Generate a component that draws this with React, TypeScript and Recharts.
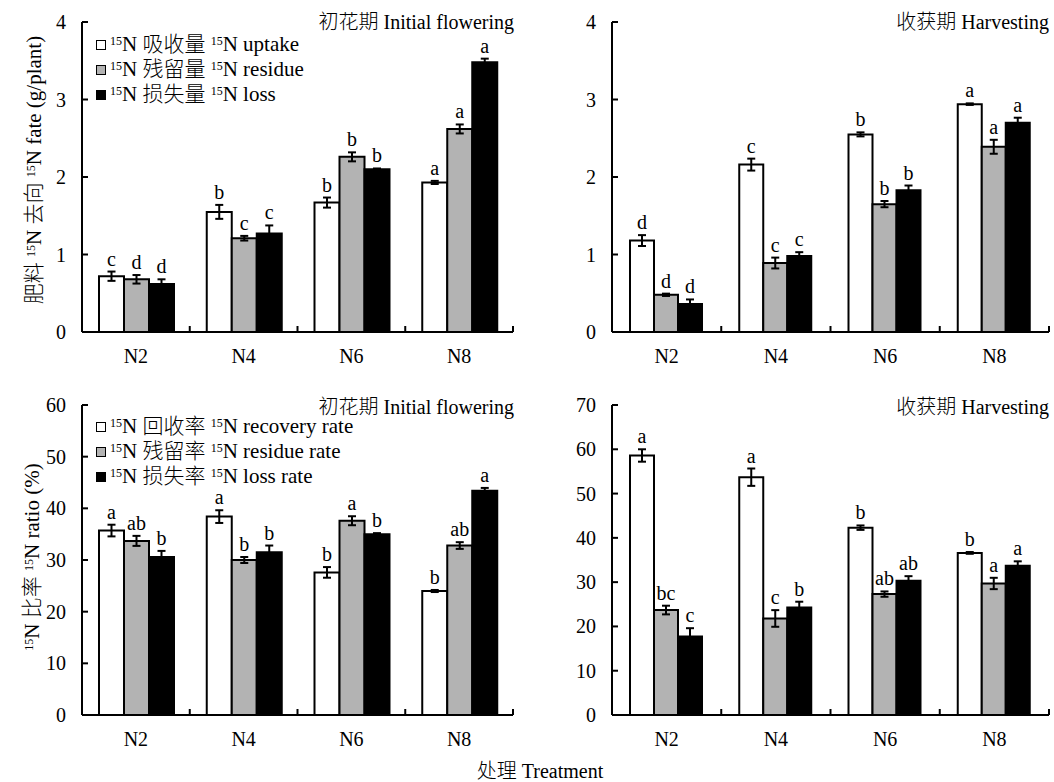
import React from "react";
import { Bar, BarChart, ErrorBar, LabelList, Legend, XAxis, YAxis } from "recharts";

const FONT = "'Liberation Serif', 'Noto Sans CJK SC', serif";
const FS = 20;

const treatments = ["N2", "N4", "N6", "N8"];

// 初花期 fate (g/plant)
const flUptake = [0.72, 1.55, 1.67, 1.93];
const flUptakeErr = [0.06, 0.09, 0.065, 0.02];
const flUptakeSig = ["c", "b", "b", "a"];
const flResidue = [0.68, 1.21, 2.26, 2.62];
const flResidueErr = [0.055, 0.03, 0.058, 0.058];
const flResidueSig = ["d", "c", "b", "a"];
const flLoss = [0.62, 1.27, 2.1, 3.48];
const flLossErr = [0.06, 0.105, 0.01, 0.047];
const flLossSig = ["d", "c", "b", "a"];

// 收获期 fate (g/plant)
const hvUptake = [1.18, 2.16, 2.55, 2.94];
const hvUptakeErr = [0.07, 0.077, 0.026, 0.01];
const hvUptakeSig = ["d", "c", "b", "a"];
const hvResidue = [0.48, 0.89, 1.65, 2.39];
const hvResidueErr = [0.015, 0.07, 0.04, 0.09];
const hvResidueSig = ["d", "c", "b", "a"];
const hvLoss = [0.36, 0.98, 1.83, 2.7];
const hvLossErr = [0.06, 0.05, 0.06, 0.065];
const hvLossSig = ["d", "c", "b", "a"];

// 初花期 ratio (%)
const flRecovery = [35.7, 38.4, 27.6, 24.0];
const flRecoveryErr = [1.13, 1.23, 1.03, 0.2];
const flRecoverySig = ["a", "a", "b", "b"];
const flResRate = [33.7, 30.0, 37.6, 32.8];
const flResRateErr = [0.97, 0.58, 0.87, 0.65];
const flResRateSig = ["ab", "b", "a", "ab"];
const flLossRate = [30.6, 31.5, 35.0, 43.4];
const flLossRateErr = [1.16, 1.3, 0.2, 0.55];
const flLossRateSig = ["b", "b", "b", "a"];

// 收获期 ratio (%)
const hvRecovery = [58.6, 53.7, 42.3, 36.6];
const hvRecoveryErr = [1.4, 1.96, 0.5, 0.2];
const hvRecoverySig = ["a", "a", "b", "b"];
const hvResRate = [23.7, 21.8, 27.3, 29.7];
const hvResRateErr = [0.98, 1.88, 0.6, 1.28];
const hvResRateSig = ["bc", "c", "ab", "a"];
const hvLossRate = [17.7, 24.3, 30.3, 33.7];
const hvLossRateErr = [1.9, 1.28, 1.05, 1.0];
const hvLossRateSig = ["c", "b", "ab", "a"];

const fateTicks = [0, 1, 2, 3, 4];
const flRatioTicks = [0, 10, 20, 30, 40, 50, 60];
const hvRatioTicks = [0, 10, 20, 30, 40, 50, 60, 70];

type Series = { v: number[]; e: number[]; s: string[] };

const rows = (a: Series, b: Series, c: Series) =>
  treatments.map((t, i) => ({
    name: t,
    a: a.v[i], aErr: a.e[i], aSig: a.s[i],
    b: b.v[i], bErr: b.e[i], bSig: b.s[i],
    c: c.v[i], cErr: c.e[i], cSig: c.s[i],
  }));

const Sup = ({ children }: { children: React.ReactNode }) => (
  <span style={{ fontSize: 12, verticalAlign: "top", lineHeight: "14px", position: "relative", top: 2 }}>{children}</span>
);

const sigLabel = (vals: number[], errs: number[]) => (props: any) => {
  const vb = props.viewBox && props.viewBox.width != null ? props.viewBox : props;
  const { x, y, width, height } = vb;
  const i = props.index ?? 0;
  const per = vals[i] ? height / vals[i] : 0;
  const top = y - errs[i] * per;
  return (
    <text x={x + width / 2} y={top - 6} textAnchor="middle" fontSize={FS} fontFamily={FONT} fill="#000">
      {props.value}
    </text>
  );
};

const YTick = (props: any) => {
  const { x, y, payload } = props;
  return (
    <g>
      <line x1={x + 16} x2={x + 22} y1={y} y2={y} stroke="#000" strokeWidth={2} />
      <text x={x} y={y} dy="0.35em" textAnchor="end" fontSize={FS} fontFamily={FONT} fill="#000">
        {payload.value}
      </text>
    </g>
  );
};

const makeXTick = (band: number) => (props: any) => {
  const { x, y, payload } = props;
  const off = payload.offset ?? band / 2;
  return (
    <g>
      <line x1={x + off} x2={x + off} y1={y} y2={y - 6} stroke="#000" strokeWidth={2} />
      <text x={x} y={y + 31} textAnchor="middle" fontSize={FS} fontFamily={FONT} fill="#000">
        {payload.value}
      </text>
    </g>
  );
};

const legendBox = (items: [string, string, string][]) => () => (
  <div style={{ fontFamily: FONT, fontSize: 21, lineHeight: "25px", color: "#000", fontWeight: 300 }}>
    {items.map(([fill, zh, en]) => (
      <div key={zh} style={{ display: "flex", alignItems: "center", whiteSpace: "nowrap" }}>
        <span style={{ width: 8, height: 8, border: "1.5px solid #000", background: fill, marginRight: 4, display: "inline-block" }} />
        <span>
          <Sup>15</Sup>N {zh} <Sup>15</Sup>N {en}
        </span>
      </div>
    ))}
  </div>
);

type PanelProps = {
  data: ReturnType<typeof rows>;
  series: Series[];
  width: number;
  height: number;
  margin: { top: number; right: number; left: number; bottom: number };
  ticks: number[];
  gap: number;
  legend?: [string, string, string][];
  legendTop?: number;
};

const Panel = ({ data, series, width, height, margin, ticks, gap, legend, legendTop }: PanelProps) => {
  const band = (width - margin.left - margin.right - 82) / treatments.length;
  const keys = ["a", "b", "c"];
  const fills = ["#ffffff", "#b3b3b3", "#000000"];
  return (
    <BarChart width={width} height={height} data={data} margin={margin} barCategoryGap={gap} barGap={0}>
      <XAxis
        dataKey="name"
        height={30}
        axisLine={{ stroke: "#000", strokeWidth: 2 }}
        tickLine={false}
        tickSize={0}
        tickMargin={0}
        tick={makeXTick(band)}
        interval={0}
      />
      <YAxis
        width={82}
        domain={[ticks[0], ticks[ticks.length - 1]]}
        ticks={ticks}
        axisLine={{ stroke: "#000", strokeWidth: 2 }}
        tickLine={false}
        tickSize={0}
        tickMargin={16}
        tick={<YTick />}
        interval={0}
      />
      {legend && (
        <Legend
          layout="horizontal"
          verticalAlign="middle"
          align="center"
          content={legendBox(legend)}
          wrapperStyle={{ top: legendTop, left: 96, width: "auto", height: "auto", bottom: "auto" }}
        />
      )}
      {keys.map((k, j) => (
        <Bar key={k} dataKey={k} fill={fills[j]} stroke="#000" strokeWidth={2} isAnimationActive={false}>
          <ErrorBar dataKey={`${k}Err`} width={4} stroke="#000" strokeWidth={2} direction="y" />
          <LabelList dataKey={`${k}Sig`} content={sigLabel(series[j].v, series[j].e)} />
        </Bar>
      ))}
    </BarChart>
  );
};

const txt: React.CSSProperties = {
  position: "absolute", fontFamily: FONT, fontSize: FS, color: "#000", whiteSpace: "nowrap", lineHeight: "24px", fontWeight: 300,
};

export default function App() {
  const s1 = [
    { v: flUptake, e: flUptakeErr, s: flUptakeSig },
    { v: flResidue, e: flResidueErr, s: flResidueSig },
    { v: flLoss, e: flLossErr, s: flLossSig },
  ];
  const s2 = [
    { v: hvUptake, e: hvUptakeErr, s: hvUptakeSig },
    { v: hvResidue, e: hvResidueErr, s: hvResidueSig },
    { v: hvLoss, e: hvLossErr, s: hvLossSig },
  ];
  const s3 = [
    { v: flRecovery, e: flRecoveryErr, s: flRecoverySig },
    { v: flResRate, e: flResRateErr, s: flResRateSig },
    { v: flLossRate, e: flLossRateErr, s: flLossRateSig },
  ];
  const s4 = [
    { v: hvRecovery, e: hvRecoveryErr, s: hvRecoverySig },
    { v: hvResRate, e: hvResRateErr, s: hvResRateSig },
    { v: hvLossRate, e: hvLossRateErr, s: hvLossRateSig },
  ];
  const fateLegend: [string, string, string][] = [
    ["#ffffff", "吸收量", "uptake"],
    ["#b3b3b3", "残留量", "residue"],
    ["#000000", "损失量", "loss"],
  ];
  const rateLegend: [string, string, string][] = [
    ["#ffffff", "回收率", "recovery rate"],
    ["#b3b3b3", "残留率", "residue rate"],
    ["#000000", "损失率", "loss rate"],
  ];
  return (
    <div style={{ position: "absolute", left: 0, top: 0, width: 1054, height: 782, background: "#fff", fontFamily: FONT }}>
      <div style={{ position: "absolute", left: 0, top: 0 }}>
        <Panel data={rows(s1[0], s1[1], s1[2])} series={s1} width={530} height={380}
          margin={{ top: 22, right: 17, left: 0, bottom: 18 }} ticks={fateTicks} gap={17}
          legend={fateLegend} legendTop={32} />
      </div>
      <div style={{ position: "absolute", left: 530, top: 0 }}>
        <Panel data={rows(s2[0], s2[1], s2[2])} series={s2} width={524} height={380}
          margin={{ top: 22, right: 5, left: 0, bottom: 18 }} ticks={fateTicks} gap={18} />
      </div>
      <div style={{ position: "absolute", left: 0, top: 380 }}>
        <Panel data={rows(s3[0], s3[1], s3[2])} series={s3} width={530} height={380}
          margin={{ top: 25, right: 17, left: 0, bottom: 15 }} ticks={flRatioTicks} gap={17}
          legend={rateLegend} legendTop={34} />
      </div>
      <div style={{ position: "absolute", left: 530, top: 380 }}>
        <Panel data={rows(s4[0], s4[1], s4[2])} series={s4} width={524} height={380}
          margin={{ top: 25, right: 5, left: 0, bottom: 15 }} ticks={hvRatioTicks} gap={18} />
      </div>

      <div style={{ ...txt, right: 1054 - 514, top: 10 }}>初花期 Initial flowering</div>
      <div style={{ ...txt, right: 1054 - 1049, top: 10 }}>收获期 Harvesting</div>
      <div style={{ ...txt, right: 1054 - 514, top: 395 }}>初花期 Initial flowering</div>
      <div style={{ ...txt, right: 1054 - 1049, top: 395 }}>收获期 Harvesting</div>

      <div style={{ ...txt, fontSize: 21, left: 34, top: 170, transform: "translate(-50%, -50%) rotate(-90deg)" }}>
        肥料 <Sup>15</Sup>N 去向 <Sup>15</Sup>N fate (g/plant)
      </div>
      <div style={{ ...txt, fontSize: 21, left: 32, top: 557, transform: "translate(-50%, -50%) rotate(-90deg)" }}>
        <Sup>15</Sup>N 比率 <Sup>15</Sup>N ratio (%)
      </div>
      <div style={{ ...txt, left: 540, top: 771, transform: "translate(-50%, -50%)" }}>处理 Treatment</div>
    </div>
  );
}
